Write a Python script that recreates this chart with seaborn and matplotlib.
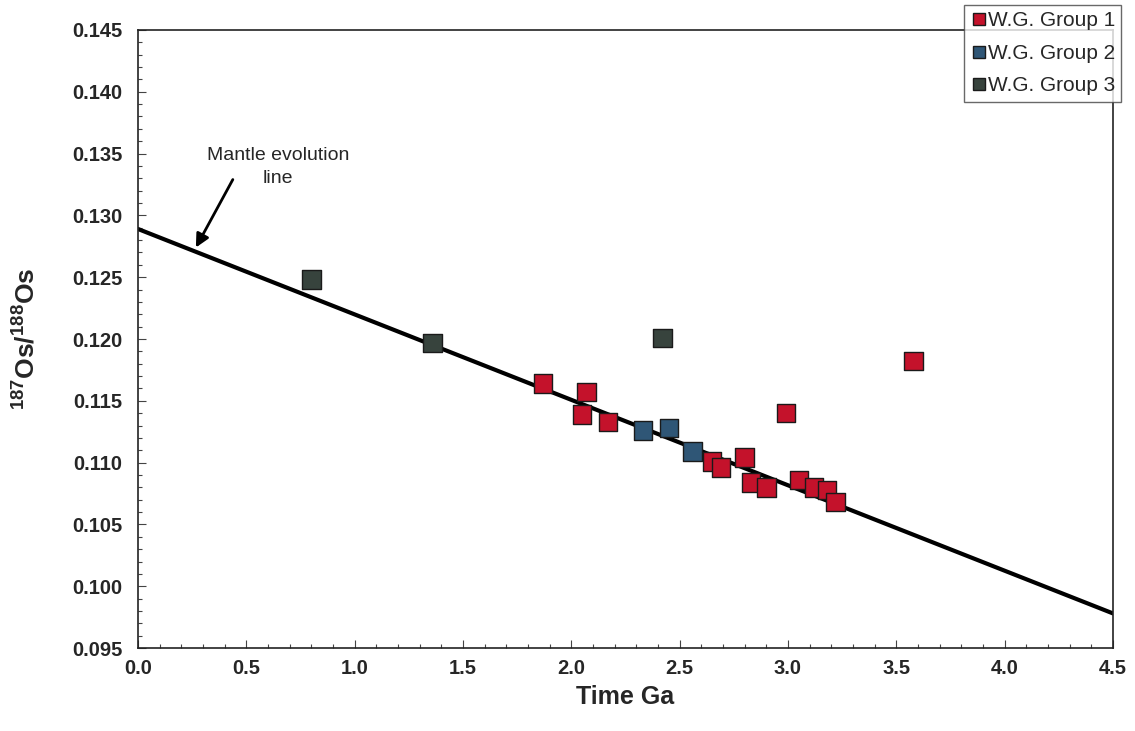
"""
Os isotope evolution plot: W.G. groups against the mantle evolution line.
"""

import matplotlib
matplotlib.use("Agg")  # no screen in the sandbox

import matplotlib.pyplot as plt
from matplotlib.ticker import MultipleLocator
import pandas as pd
import seaborn as sns

# --- data ---
group1_age = [1.87, 2.07, 2.05, 2.17, 2.65, 2.69, 2.80, 2.83, 2.90, 2.99,
              3.05, 3.12, 3.18, 3.22, 3.58]
group1_os = [0.1164, 0.1157, 0.1139, 0.1133, 0.1101, 0.1096, 0.1104, 0.1084,
             0.1080, 0.1140, 0.1086, 0.1080, 0.1078, 0.1068, 0.1182]
group2_age = [2.33, 2.45, 2.56]
group2_os = [0.1126, 0.1128, 0.1109]
group3_age = [0.80, 1.36, 2.42]
group3_os = [0.1248, 0.1197, 0.1201]

group_names = ["W.G. Group 1", "W.G. Group 2", "W.G. Group 3"]
group_colors = ["#c4122b", "#2f5676", "#37433d"]

mantle_age = [0.0, 4.5]
mantle_os = [0.1289, 0.0978]

# one long table for seaborn
df = pd.concat([
    pd.DataFrame({"age": group1_age, "os": group1_os, "group": group_names[0]}),
    pd.DataFrame({"age": group2_age, "os": group2_os, "group": group_names[1]}),
    pd.DataFrame({"age": group3_age, "os": group3_os, "group": group_names[2]}),
])
mantle = pd.DataFrame({"age": mantle_age, "os": mantle_os})

sns.set_theme(style="white")
plt.rcParams["font.family"] = ["Liberation Sans", "DejaVu Sans"]
plt.rcParams["mathtext.fontset"] = "custom"
plt.rcParams["mathtext.bf"] = "Liberation Sans:bold"
plt.rcParams["mathtext.rm"] = "Liberation Sans:bold"
plt.rcParams["mathtext.default"] = "bf"

fig = plt.figure(figsize=(11.35, 7.31), dpi=100)
ax = fig.add_axes([0.1216, 0.1135, 0.859, 0.8455])

# mantle evolution line
sns.lineplot(data=mantle, x="age", y="os", color="black", linewidth=3,
             ax=ax, legend=False, zorder=2)

# samples
sns.scatterplot(data=df, x="age", y="os", hue="group", hue_order=group_names,
                palette=dict(zip(group_names, group_colors)), marker="s",
                s=175, edgecolor="#1a1a1a", linewidth=1.0, ax=ax, zorder=3)

ax.set_xlim(0, 4.5)
ax.set_ylim(0.095, 0.145)
ax.xaxis.set_major_locator(MultipleLocator(0.5))
ax.xaxis.set_minor_locator(MultipleLocator(0.1))
ax.yaxis.set_major_locator(MultipleLocator(0.005))
ax.yaxis.set_minor_locator(MultipleLocator(0.001))
ax.xaxis.set_major_formatter(plt.FormatStrFormatter("%.1f"))
ax.yaxis.set_major_formatter(plt.FormatStrFormatter("%.3f"))
ax.tick_params(which="both", direction="in", color="#444444", width=0.8,
               bottom=True, left=True)
ax.tick_params(which="major", length=6)
ax.tick_params(which="minor", length=3)
ax.tick_params(axis="x", which="major", pad=8, labelsize=14.5)
ax.tick_params(axis="y", which="major", pad=11, labelsize=14.5)
for lab in ax.get_xticklabels() + ax.get_yticklabels():
    lab.set_fontweight("bold")

for side in ["top", "right", "bottom", "left"]:
    ax.spines[side].set_visible(True)
    ax.spines[side].set_color("#222222")
    ax.spines[side].set_linewidth(1.2)

ax.set_xlabel("Time Ga", fontsize=18, fontweight="bold", labelpad=5)
ax.set_ylabel(r"$^{187}$Os/$^{188}$Os", fontsize=19, fontweight="bold")
ax.yaxis.set_label_coords(-0.1, 0.5)

# annotation text and its arrow
ax.text(0.645, 0.1339, "Mantle evolution\nline", ha="center", va="center",
        fontsize=14, linespacing=1.45)
ax.annotate("", xy=(0.267, 0.1274), xytext=(0.4376, 0.1329),
            arrowprops=dict(arrowstyle="-|>", color="black", lw=2,
                            mutation_scale=20, shrinkA=0, shrinkB=0))

# legend sits in the top right corner, over the frame
leg = ax.legend(loc="upper right", bbox_to_anchor=(0.988, 0.993),
                bbox_transform=fig.transFigure, borderaxespad=0,
                fontsize=15, frameon=True, fancybox=False,
                handletextpad=0.05, handlelength=0.8, borderpad=0.3,
                labelspacing=0.65, markerscale=0.65)
leg.get_frame().set_edgecolor("#444444")
leg.get_frame().set_linewidth(1.0)
leg.set_zorder(10)

fig.savefig("out.png", dpi=100, facecolor="white")
plt.close(fig)
